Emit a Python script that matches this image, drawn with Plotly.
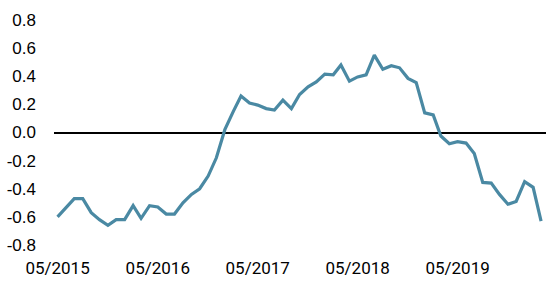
import pandas as pd
import plotly.graph_objects as go

# monthly values, 05/2015 .. 03/2020
dates = pd.date_range("2015-05-01", "2020-03-01", freq="MS")
values = [
    -0.60, -0.53, -0.47, -0.47, -0.57, -0.62, -0.66, -0.62, -0.62, -0.52,
    -0.61, -0.52, -0.53, -0.58, -0.58, -0.50, -0.44, -0.40, -0.31, -0.18,
    0.02, 0.15, 0.26, 0.21, 0.195, 0.17, 0.16, 0.23, 0.17, 0.27,
    0.325, 0.36, 0.415, 0.41, 0.48, 0.365, 0.395, 0.41, 0.55, 0.45,
    0.475, 0.46, 0.385, 0.355, 0.14, 0.125, -0.025, -0.08, -0.065, -0.075,
    -0.15, -0.355, -0.36, -0.44, -0.51, -0.49, -0.35, -0.39, -0.63,
]
x_ticks = ["2015-05-01", "2016-05-01", "2017-05-01", "2018-05-01", "2019-05-01"]
x_tick_labels = ["05/2015", "05/2016", "05/2017", "05/2018", "05/2019"]
y_ticks = [0.8, 0.6, 0.4, 0.2, 0.0, -0.2, -0.4, -0.6, -0.8]
y_tick_labels = ["0.8", "0.6", "0.4", "0.2", "0.0", "-0.2", "-0.4", "-0.6", "-0.8"]

fig = go.Figure()
fig.add_trace(go.Scatter(
    x=dates, y=values, mode="lines",
    line=dict(color="#4a89a3", width=3.2),
    hoverinfo="skip",
))

fig.update_layout(
    width=554, height=286,
    margin=dict(l=54, r=8, t=20, b=41),
    paper_bgcolor="white", plot_bgcolor="white",
    showlegend=False,
    font=dict(family="Liberation Sans, Arial, sans-serif", size=17, color="black"),
    xaxis=dict(
        range=["2015-04-18", "2020-03-19"],
        tickmode="array", tickvals=x_ticks, ticktext=x_tick_labels,
        tickfont=dict(family="Roboto, Liberation Sans, sans-serif", size=17),
        showgrid=False, zeroline=False, showline=False, ticks="",
        ticklabelstandoff=11,
    ),
    yaxis=dict(
        range=[-0.8, 0.8],
        tickmode="array", tickvals=y_ticks, ticktext=y_tick_labels,
        showgrid=False, zeroline=True, zerolinecolor="black", zerolinewidth=1.5,
        showline=False, ticks="", ticklabelstandoff=17,
    ),
)

fig.write_html("out.html")
